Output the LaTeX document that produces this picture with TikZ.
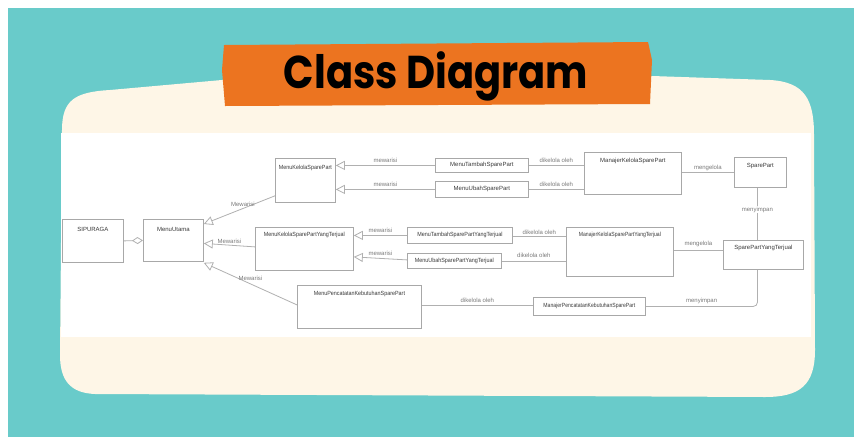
\documentclass[tikz,border=0pt]{standalone}
\usepackage{fontspec}
\setmainfont{Liberation Sans}
\newfontfamily\titlefont{Poppins}
\usetikzlibrary{arrows.meta,calc}
\definecolor{teal}{HTML}{69CBCA}
\definecolor{orangeb}{HTML}{EC7420}
\definecolor{cream}{HTML}{FEF6E7}
\definecolor{boxgray}{HTML}{A8A8A8}
\definecolor{linegray}{HTML}{B0B0B0}
\definecolor{namegray}{HTML}{3A3A3A}
\definecolor{lblgray}{HTML}{7A7A7A}
\tikzset{
  clsbox/.style={draw=boxgray, line width=0.8pt, fill=white, anchor=north west, inner sep=0pt},
  clsname/.style={font=\fontsize{6}{6}\selectfont, text=namegray, inner sep=0pt},
  conn/.style={draw=linegray, line width=0.8pt},
  inh/.style={conn, -{Triangle[open, length=9pt, width=9pt, fill=white]}},
  agg/.style={conn, -{Diamond[open, length=11pt, width=7pt, fill=white]}},
  lbl/.style={font=\fontsize{6}{6}\selectfont, text=lblgray, inner sep=0.5pt},
}
\begin{document}
\begin{tikzpicture}[x=1pt, y=-1pt]
\useasboundingbox (0,0) rectangle (854,437);
% background
\fill[white] (0,0) rectangle (854,437);
\fill[teal] (8,8) rectangle (854,437);
% cream panel
\fill[cream] (62,130) .. controls (62,100) and (75,92) .. (110,90) -- (222,80) -- (652,76) -- (770,80)
  .. controls (805,82) and (814,100) .. (814,135) -- (815,350)
  .. controls (815,385) and (800,397) .. (765,397) -- (95,394)
  .. controls (70,393) and (60,380) .. (60,355) -- cycle;
% banner
\fill[orangeb] (224,45) -- (648,42) -- (652,60) -- (650,104) -- (225,106) -- (222,70) -- cycle;
\node[anchor=base, inner sep=0pt, text=black] (title) at (436,88)
  {\scalebox{0.87}[1]{\titlefont\bfseries\fontsize{46}{46}\selectfont Class Diagram}};
% white diagram area
\fill[white] (61,133) rectangle (811,337);

% classes
\node[clsbox, minimum width=61pt, minimum height=43pt] (sip) at (62,219) {};
\node[clsname] (sipt) at ($(sip.north)+(0,10)$) {SIPURAGA};
\node[clsbox, minimum width=60pt, minimum height=42pt] (utama) at (143,219) {};
\node[clsname] (utamat) at ($(utama.north)+(0,10)$) {MenuUtama};

\node[clsbox, minimum width=60pt, minimum height=44pt] (kelola) at (275,158) {};
\node[clsname] (kelolat) at ($(kelola.north)+(0,10)$) {\scalebox{0.9}[1]{MenuKelolaSparePart}};
\node[clsbox, minimum width=93pt, minimum height=14pt] (tambah) at (435,158) {};
\node[clsname] (tambaht) at (tambah.center) {MenuTambahSparePart};
\node[clsbox, minimum width=93pt, minimum height=16pt] (ubah) at (435,181) {};
\node[clsname] (ubaht) at (ubah.center) {MenuUbahSparePart};
\node[clsbox, minimum width=97pt, minimum height=42pt] (manajer) at (584,152) {};
\node[clsname] (manajert) at ($(manajer.north)+(0,9)$) {ManajerKelolaSparePart};
\node[clsbox, minimum width=52pt, minimum height=30pt] (sparepart) at (734,157) {};
\node[clsname] (spareparttxt) at ($(sparepart.north)+(0,9)$) {SparePart};

\node[clsbox, minimum width=98pt, minimum height=43pt] (kelolayt) at (255,227) {};
\node[clsname] (kelolaytt) at ($(kelolayt.north)+(0,8)$) {\scalebox{0.9}[1]{MenuKelolaSparePartYangTerjual}};
\node[clsbox, minimum width=105pt, minimum height=16pt] (tambahyt) at (407,227) {};
\node[clsname] (tambahytt) at (tambahyt.center) {\scalebox{0.9}[1]{MenuTambahSparePartYangTerjual}};
\node[clsbox, minimum width=94pt, minimum height=15pt] (ubahyt) at (407,253) {};
\node[clsname] (ubahytt) at (ubahyt.center) {\scalebox{0.9}[1]{MenuUbahSparePartYangTerjual}};
\node[clsbox, minimum width=107pt, minimum height=49pt] (manajeryt) at (566,227) {};
\node[clsname] (manajerytt) at ($(manajeryt.north)+(0,8)$) {\scalebox{0.85}[1]{ManajerKelolaSparePartYangTerjual}};
\node[clsbox, minimum width=80pt, minimum height=29pt] (spyt) at (723,240) {};
\node[clsname] (spytt) at ($(spyt.north)+(0,8)$) {SparePartYangTerjual};

\node[clsbox, minimum width=124pt, minimum height=43pt] (catat) at (297,285) {};
\node[clsname] (catatt) at ($(catat.north)+(0,9)$) {\scalebox{0.9}[1]{MenuPencatatanKebutuhanSparePart}};
\node[clsbox, minimum width=112pt, minimum height=18pt] (manajerc) at (533,297) {};
\node[clsname] (manajerct) at (manajerc.center) {\scalebox{0.85}[1]{ManajerPencatatanKebutuhanSparePart}};

% aggregation
\draw[agg] (sip.east) -- (utama.west);

% inheritance to MenuUtama
\draw[inh] ($(kelola.south west)+(0,-7)$) -- ($(utama.north east)+(0,5)$)
  node[lbl, pos=0.45, above=1pt] (l1) {Mewarisi};
\draw[inh] ($(kelolayt.west)+(0,-2)$) -- ($(utama.east)+(0,3)$)
  node[lbl, pos=0.5, above=1pt] (l2) {Mewarisi};
\draw[inh] ($(catat.west)+(0,-2)$) -- ($(utama.south east)+(0,1)$)
  node[lbl, pos=0.5, above=2pt] (l3) {Mewarisi};

% top row
\draw[inh] (tambah.west) -- (tambah.west -| kelola.east)
  node[lbl, midway, above=2pt] (l4) {mewarisi};
\draw[inh] (ubah.west) -- (ubah.west -| kelola.east)
  node[lbl, midway, above=2pt] (l5) {mewarisi};
\draw[conn] (tambah.east) -- (tambah.east -| manajer.west)
  node[lbl, midway, above=2pt] (l6) {dikelola oleh};
\draw[conn] (ubah.east) -- (ubah.east -| manajer.west)
  node[lbl, midway, above=2pt] (l7) {dikelola oleh};
\draw[conn] ($(manajer.east)+(0,-1)$) -- ($(manajer.east -| sparepart.west)+(0,-1)$)
  node[lbl, midway, above=1pt] (l8) {mengelola};
\draw[conn] ($(sparepart.south)+(-3,0)$) -- ($(spyt.north -| sparepart.south)+(-3,0)$)
  node[lbl, pos=0.42, fill=white] (l9) {menyimpan};

% middle row
\draw[inh] (tambahyt.west) -- (tambahyt.west -| kelolayt.east)
  node[lbl, midway, above=2pt] (l10) {mewarisi};
\draw[inh] ($(ubahyt.west)+(0,-1)$) -- ($(kelolayt.east)+(0,8)$)
  node[lbl, midway, above=2pt] (l11) {mewarisi};
\draw[conn] ($(tambahyt.east)+(0,1)$) -- ($(tambahyt.east -| manajeryt.west)+(0,1)$)
  node[lbl, midway, above=1pt] (l12) {dikelola oleh};
\draw[conn] (ubahyt.east) -- (ubahyt.east -| manajeryt.west)
  node[lbl, midway, above=2pt] (l13) {dikelola oleh};
\draw[conn] ($(manajeryt.east)+(0,-1.5)$) -- ($(manajeryt.east -| spyt.west)+(0,-1.5)$)
  node[lbl, midway, above=3pt] (l14) {mengelola};

% bottom row
\draw[conn] ($(catat.east)+(0,-1.5)$) -- ($(catat.east -| manajerc.west)+(0,-1.5)$)
  node[lbl, midway, above=2pt] (l15) {dikelola oleh};
\coordinate (bend) at ($(manajerc.east -| sparepart.south)+(-3,0)$);
\draw[conn, rounded corners=4pt] (manajerc.east) -- (bend) -- ($(spyt.south -| sparepart.south)+(-3,0)$);
\node[lbl, above=2pt] (l16) at ($(manajerc.east)!0.5!(bend)$) {menyimpan};
\end{tikzpicture}
\end{document}
